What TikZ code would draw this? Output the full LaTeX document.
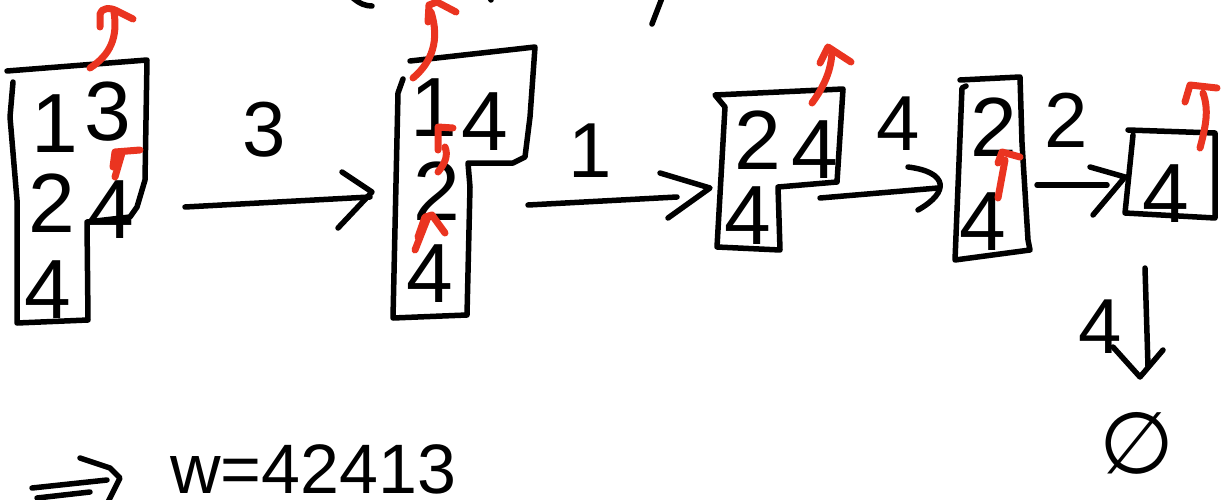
\documentclass[tikz,border=0pt]{standalone}
\usepackage{fontspec}
\setmainfont{Liberation Sans}
\newfontfamily\symf{DejaVu Sans}
\definecolor{pen}{RGB}{234,52,32}
\begin{document}
\begin{tikzpicture}[x=1pt,y=-1pt,
  ink/.style={draw=black,line width=5.5pt,line cap=round,line join=round},
  redink/.style={draw=pen,line width=7pt,line cap=round,line join=round},
  dig/.style={inner sep=0pt,anchor=base,font=\fontsize{84}{84}\selectfont},
  lab/.style={inner sep=0pt,anchor=base,font=\fontsize{78}{78}\selectfont},
]
\useasboundingbox (0,0) rectangle (1228,500);
\clip (0,0) rectangle (1228,500);

% ---------- stack boxes ----------
\draw[ink] (7,71) -- (147,60) -- (145,180) -- (137,207) -- (130,217) -- (87,222)
  -- (88,320) -- (17,323) -- (17,200) -- (10,117) -- (13,82);
\draw[ink] (410,61) -- (535,47) -- (530,117) -- (525,157) -- (513,163) -- (468,163)
  -- (470,187) -- (467,315) -- (393,318) -- (398,93) -- (403,79);
\draw[ink] (715,95) -- (843,89) -- (837,182) -- (778,187) -- (780,250) -- (717,247)
  -- (725,107) -- cycle;
\draw[ink] (960,80) -- (1020,77) -- (1022,143) -- (1028,240) -- (1030,250) -- (955,260)
  -- (962,88) -- (966,86);
\draw[ink] (1128,130) -- (1215,133) -- (1215,218) -- (1125,213) -- (1133,135);

% ---------- stack contents ----------
\node[dig] (s1a) at (55,152) {1};
\node[dig] (s1b) at (108,140) {3};
\node[dig] (s1c) at (52,232) {2};
\node[dig] (s1d) at (111,238) {4};
\node[dig] (s1e) at (48,318) {4};

\node[dig] (s2a) at (434,136) {1};
\node[dig] (s2b) at (485,150) {4};
\node[dig] (s2c) at (437,220) {2};
\node[dig] (s2d) at (430,302) {4};

\node[dig] (s3a) at (758,169) {2};
\node[dig] (s3b) at (815,178) {4};
\node[dig] (s3c) at (748,244) {4};

\node[dig] (s4a) at (994,157) {2};
\node[dig] (s4b) at (983,250) {4};

\node[dig] (s5a) at (1166,222) {4};

% ---------- transitions ----------
\coordinate (t1s) at (185,207); \coordinate (t1e) at (370,197);
\coordinate (t2s) at (528,205); \coordinate (t2e) at (677,197);
\coordinate (t3s) at (820,198); \coordinate (t3e) at (938,188);
\coordinate (t4s) at (1037,185); \coordinate (t4e) at (1107,185);
\coordinate (t5s) at (1145,268); \coordinate (t5e) at (1148,367);

\draw[ink] (t1s) -- (t1e);
\draw[ink] (342,172) -- (372,192) -- (338,228);
\draw[ink] (t2s) -- (t2e);
\draw[ink] (660,173) -- (710,188) -- (668,218);
\draw[ink] (t3s) -- (t3e);
\draw[ink] (908,167) .. controls (948,172) and (950,192) .. (918,210);
\draw[ink] (t4s) -- (t4e);
\draw[ink] (1090,167) -- (1125,177) -- (1093,215);
\draw[ink] (t5s) -- (t5e);
\draw[ink] (1113,347) -- (1140,377) -- (1163,350);

\node[lab] (l1) at (264,157) {3};
\node[lab] (l2) at (590,177) {1};
\node[lab] (l3) at (898,150) {4};
\node[lab] (l4) at (1066,147) {2};
\node[lab] (l5) at (1100,353) {4};
\node[inner sep=0pt,font=\symf\fontsize{86}{86}\selectfont] (empty) at (1137,443) {∅};

% ---------- red pointer arrows ----------
\draw[redink] (90,68) .. controls (110,55) and (118,38) .. (114,12);
\draw[redink] (100,27) -- (100,14) .. controls (101,8) and (110,7) .. (117,11) -- (133,19);
\draw[redink] (115,177) -- (122,153);
\draw[redink] (113,167) -- (115,152) -- (140,150);

\draw[redink] (413,78) .. controls (432,62) and (440,40) .. (431,12);
\draw[redink] (428,22) -- (429,5) -- (437,2) -- (456,12);
\draw[redink] (438,172) .. controls (446,162) and (448,155) .. (445,147);
\draw[redink] (438,150) -- (438,127) -- (453,128);
\draw[redink] (415,250) -- (428,217);
\draw[redink] (418,237) -- (425,217) -- (432,215) -- (445,233);

\draw[redink] (812,103) .. controls (825,85) and (831,70) .. (832,52);
\draw[redink] (820,63) -- (828,47) -- (851,62);

\draw[redink] (998,198) -- (1005,160);
\draw[redink] (998,163) -- (1002,152) -- (1020,157);

\draw[redink] (1200,148) .. controls (1206,125) and (1209,110) .. (1203,93);
\draw[redink] (1185,102) -- (1190,85) -- (1217,88);

% ---------- cut-off strokes at the top ----------
\draw[ink] (353,-2) .. controls (360,4) and (366,6) .. (372,6);
\draw[ink] (662,-2) -- (652,24);
\draw[ink] (490,-2) -- (491,0);

% ---------- result ----------
\draw[ink] (32,488) -- (107,480);
\draw[ink] (37,498) -- (90,492);
\draw[ink] (80,458) -- (110,468) -- (120,478) -- (108,502);
\node[inner sep=0pt,anchor=base west,font=\fontsize{70}{70}\selectfont] (res) at (170,493) {w=42413};
\end{tikzpicture}
\end{document}
